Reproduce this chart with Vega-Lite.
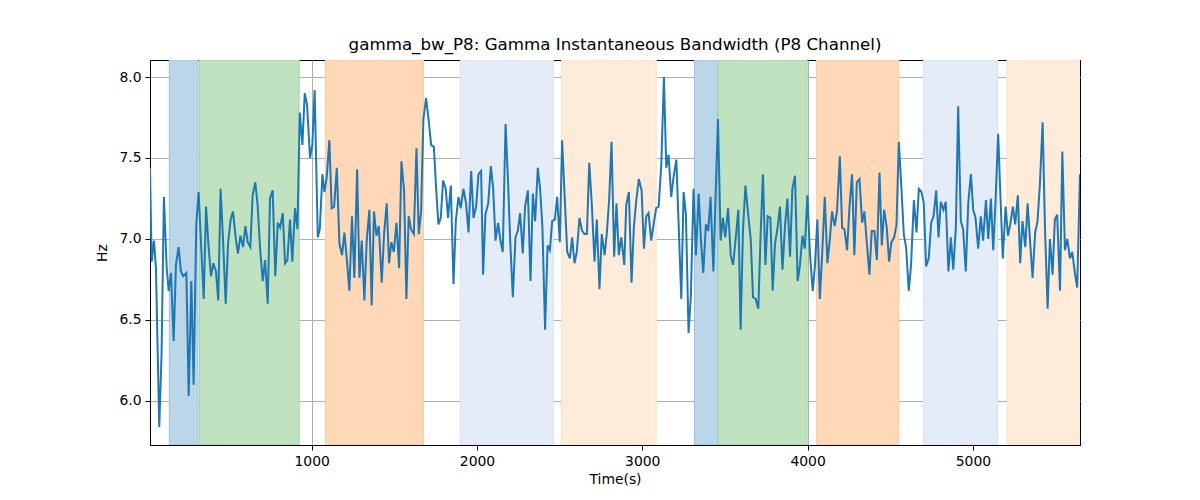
{
  "$schema": "https://vega.github.io/schema/vega-lite/v6.json",
  "autosize": "none",
  "width": 930,
  "height": 385,
  "padding": {"left": 150, "top": 60, "right": 120, "bottom": 55},
  "background": "white",
  "title": {
    "text": "gamma_bw_P8: Gamma Instantaneous Bandwidth (P8 Channel)",
    "font": "DejaVu Sans",
    "fontSize": 16.7,
    "fontWeight": "normal",
    "color": "black",
    "anchor": "middle",
    "offset": 6
  },
  "datasets": {
    "spans": [
      {"start": 139, "end": 312, "kind": "a"},
      {"start": 321, "end": 924, "kind": "b"},
      {"start": 1083, "end": 1676, "kind": "c"},
      {"start": 1900, "end": 2461, "kind": "d"},
      {"start": 2511, "end": 3084, "kind": "e"},
      {"start": 3316, "end": 3458, "kind": "a"},
      {"start": 3458, "end": 3997, "kind": "b"},
      {"start": 4055, "end": 4552, "kind": "c"},
      {"start": 4703, "end": 5149, "kind": "d"},
      {"start": 5206, "end": 5660, "kind": "e"}
    ],
    "series": [
      {"t":22,"hz":7.44},{"t":32,"hz":6.86},{"t":46,"hz":6.99},{"t":58,"hz":6.82},{"t":78,"hz":5.84},{"t":92,"hz":6.29},{"t":106,"hz":7.26},{"t":123,"hz":6.82},{"t":135,"hz":6.68},{"t":149,"hz":6.79},{"t":165,"hz":6.37},{"t":179,"hz":6.84},{"t":195,"hz":6.95},{"t":209,"hz":6.80},{"t":223,"hz":6.77},{"t":242,"hz":6.79},{"t":256,"hz":6.03},{"t":272,"hz":6.74},{"t":286,"hz":6.10},{"t":302,"hz":7.09},{"t":316,"hz":7.29},{"t":330,"hz":6.99},{"t":347,"hz":6.63},{"t":361,"hz":7.20},{"t":375,"hz":6.97},{"t":391,"hz":6.77},{"t":405,"hz":6.85},{"t":421,"hz":6.80},{"t":435,"hz":6.62},{"t":449,"hz":7.31},{"t":464,"hz":6.99},{"t":480,"hz":6.60},{"t":494,"hz":6.97},{"t":510,"hz":7.12},{"t":524,"hz":7.17},{"t":540,"hz":7.01},{"t":554,"hz":6.91},{"t":569,"hz":7.02},{"t":585,"hz":6.95},{"t":599,"hz":7.08},{"t":613,"hz":6.98},{"t":629,"hz":6.95},{"t":643,"hz":7.27},{"t":659,"hz":7.35},{"t":673,"hz":7.21},{"t":688,"hz":6.94},{"t":704,"hz":6.74},{"t":718,"hz":6.87},{"t":734,"hz":6.60},{"t":748,"hz":7.25},{"t":764,"hz":7.30},{"t":780,"hz":6.77},{"t":795,"hz":7.10},{"t":809,"hz":7.07},{"t":825,"hz":7.16},{"t":839,"hz":6.85},{"t":853,"hz":6.87},{"t":869,"hz":7.12},{"t":883,"hz":6.86},{"t":899,"hz":7.19},{"t":914,"hz":7.06},{"t":928,"hz":7.78},{"t":944,"hz":7.58},{"t":958,"hz":7.90},{"t":972,"hz":7.83},{"t":990,"hz":7.50},{"t":1004,"hz":7.58},{"t":1018,"hz":7.92},{"t":1037,"hz":7.01},{"t":1049,"hz":7.06},{"t":1065,"hz":7.40},{"t":1077,"hz":7.29},{"t":1091,"hz":7.38},{"t":1107,"hz":7.61},{"t":1121,"hz":7.19},{"t":1136,"hz":7.20},{"t":1152,"hz":7.44},{"t":1168,"hz":6.97},
      {"t":1184,"hz":6.90},{"t":1198,"hz":7.04},{"t":1214,"hz":6.86},{"t":1228,"hz":6.68},{"t":1244,"hz":7.14},{"t":1258,"hz":6.76},{"t":1275,"hz":7.43},{"t":1289,"hz":6.76},{"t":1303,"hz":6.99},{"t":1319,"hz":6.62},{"t":1333,"hz":6.99},{"t":1349,"hz":7.18},{"t":1363,"hz":6.59},{"t":1377,"hz":7.17},{"t":1392,"hz":7.02},{"t":1406,"hz":7.08},{"t":1424,"hz":6.73},{"t":1438,"hz":7.03},{"t":1454,"hz":7.22},{"t":1468,"hz":6.85},{"t":1482,"hz":6.98},{"t":1497,"hz":6.92},{"t":1513,"hz":7.10},{"t":1529,"hz":6.82},{"t":1543,"hz":7.48},{"t":1559,"hz":7.30},{"t":1573,"hz":6.63},{"t":1587,"hz":7.14},{"t":1601,"hz":7.06},{"t":1618,"hz":7.03},{"t":1634,"hz":7.56},{"t":1648,"hz":7.03},{"t":1662,"hz":7.17},{"t":1676,"hz":7.74},{"t":1692,"hz":7.87},{"t":1706,"hz":7.75},{"t":1723,"hz":7.58},{"t":1739,"hz":7.57},{"t":1753,"hz":7.31},{"t":1767,"hz":7.09},{"t":1781,"hz":7.13},{"t":1795,"hz":7.36},{"t":1811,"hz":7.31},{"t":1825,"hz":7.13},{"t":1842,"hz":7.33},{"t":1858,"hz":6.72},{"t":1872,"hz":7.11},{"t":1888,"hz":7.26},{"t":1902,"hz":7.19},{"t":1918,"hz":7.31},{"t":1934,"hz":7.22},{"t":1949,"hz":7.04},{"t":1965,"hz":7.42},{"t":1979,"hz":7.13},{"t":1995,"hz":7.20},{"t":2009,"hz":7.40},{"t":2025,"hz":7.42},{"t":2037,"hz":6.78},{"t":2051,"hz":7.15},{"t":2068,"hz":7.22},{"t":2084,"hz":7.45},{"t":2098,"hz":7.31},{"t":2112,"hz":6.99},{"t":2128,"hz":7.10},{"t":2142,"hz":6.99},{"t":2156,"hz":6.92},{"t":2173,"hz":7.71},{"t":2187,"hz":7.38},{"t":2201,"hz":6.99},{"t":2217,"hz":6.64},{"t":2233,"hz":7.01},{"t":2247,"hz":7.05},{"t":2261,"hz":7.16},
      {"t":2277,"hz":6.91},{"t":2291,"hz":7.20},{"t":2308,"hz":7.30},{"t":2324,"hz":6.74},{"t":2338,"hz":7.28},{"t":2352,"hz":7.11},{"t":2368,"hz":7.44},{"t":2382,"hz":7.31},{"t":2396,"hz":7.07},{"t":2412,"hz":6.44},{"t":2427,"hz":6.96},{"t":2441,"hz":6.93},{"t":2455,"hz":7.11},{"t":2471,"hz":7.12},{"t":2485,"hz":7.26},{"t":2501,"hz":6.98},{"t":2515,"hz":7.61},{"t":2531,"hz":7.25},{"t":2546,"hz":6.92},{"t":2562,"hz":6.88},{"t":2576,"hz":7.01},{"t":2590,"hz":6.85},{"t":2604,"hz":6.92},{"t":2620,"hz":7.13},{"t":2636,"hz":7.05},{"t":2651,"hz":7.03},{"t":2665,"hz":7.03},{"t":2679,"hz":7.47},{"t":2695,"hz":7.21},{"t":2711,"hz":6.86},{"t":2725,"hz":7.12},{"t":2741,"hz":6.69},{"t":2755,"hz":7.03},{"t":2772,"hz":6.90},{"t":2786,"hz":7.04},{"t":2800,"hz":7.25},{"t":2814,"hz":7.60},{"t":2830,"hz":6.89},{"t":2844,"hz":7.22},{"t":2858,"hz":6.90},{"t":2873,"hz":7.01},{"t":2891,"hz":6.84},{"t":2903,"hz":7.21},{"t":2919,"hz":7.29},{"t":2935,"hz":6.73},{"t":2949,"hz":7.07},{"t":2963,"hz":7.23},{"t":2979,"hz":7.37},{"t":2996,"hz":7.30},{"t":3010,"hz":6.94},{"t":3024,"hz":7.14},{"t":3038,"hz":7.16},{"t":3054,"hz":6.99},{"t":3070,"hz":7.10},{"t":3084,"hz":7.19},{"t":3099,"hz":7.20},{"t":3115,"hz":7.46},{"t":3131,"hz":8.00},{"t":3145,"hz":7.44},{"t":3159,"hz":7.52},{"t":3175,"hz":7.26},{"t":3189,"hz":7.38},{"t":3206,"hz":7.49},{"t":3220,"hz":7.09},{"t":3236,"hz":6.63},{"t":3250,"hz":7.29},{"t":3264,"hz":7.15},{"t":3280,"hz":6.42},{"t":3294,"hz":6.65},{"t":3310,"hz":7.31},{"t":3325,"hz":6.90},{"t":3341,"hz":7.28},{"t":3355,"hz":6.99},{"t":3369,"hz":6.79},{"t":3385,"hz":7.09},{"t":3399,"hz":7.05},{"t":3413,"hz":7.26},{"t":3430,"hz":6.80},{"t":3444,"hz":7.28},{"t":3458,"hz":7.74},
      {"t":3474,"hz":6.99},{"t":3488,"hz":7.13},{"t":3502,"hz":7.01},{"t":3519,"hz":7.19},{"t":3535,"hz":6.90},{"t":3549,"hz":6.84},{"t":3565,"hz":7.00},{"t":3581,"hz":7.18},{"t":3595,"hz":6.44},{"t":3609,"hz":7.05},{"t":3624,"hz":7.33},{"t":3640,"hz":7.16},{"t":3656,"hz":7.00},{"t":3670,"hz":6.64},{"t":3686,"hz":6.63},{"t":3702,"hz":6.57},{"t":3716,"hz":7.03},{"t":3730,"hz":7.40},{"t":3745,"hz":6.84},{"t":3759,"hz":7.14},{"t":3775,"hz":7.13},{"t":3789,"hz":6.68},{"t":3803,"hz":6.97},{"t":3817,"hz":7.06},{"t":3833,"hz":7.20},{"t":3848,"hz":6.81},{"t":3864,"hz":7.09},{"t":3878,"hz":7.25},{"t":3894,"hz":6.89},{"t":3908,"hz":7.31},{"t":3924,"hz":7.39},{"t":3940,"hz":6.74},{"t":3954,"hz":6.84},{"t":3969,"hz":7.02},{"t":3983,"hz":6.94},{"t":3999,"hz":7.27},{"t":4015,"hz":6.90},{"t":4031,"hz":6.68},{"t":4045,"hz":6.84},{"t":4059,"hz":7.12},{"t":4074,"hz":6.63},{"t":4088,"hz":6.90},{"t":4104,"hz":7.26},{"t":4120,"hz":6.85},{"t":4134,"hz":6.99},{"t":4148,"hz":7.17},{"t":4164,"hz":7.08},{"t":4178,"hz":7.17},{"t":4195,"hz":7.51},{"t":4209,"hz":7.07},{"t":4223,"hz":7.06},{"t":4239,"hz":6.93},{"t":4253,"hz":7.19},{"t":4269,"hz":7.40},{"t":4283,"hz":6.90},{"t":4298,"hz":7.35},{"t":4314,"hz":7.37},{"t":4330,"hz":7.10},{"t":4344,"hz":7.17},{"t":4358,"hz":6.98},{"t":4374,"hz":6.78},{"t":4388,"hz":7.05},{"t":4404,"hz":7.05},{"t":4419,"hz":6.87},{"t":4435,"hz":7.41},{"t":4449,"hz":6.96},{"t":4463,"hz":7.18},{"t":4479,"hz":7.07},{"t":4493,"hz":6.86},{"t":4507,"hz":6.98},{"t":4524,"hz":7.01},{"t":4538,"hz":7.09},{"t":4552,"hz":7.60},
      {"t":4568,"hz":7.31},{"t":4582,"hz":7.03},{"t":4596,"hz":6.95},{"t":4612,"hz":6.68},{"t":4626,"hz":6.84},{"t":4643,"hz":7.24},{"t":4659,"hz":7.04},{"t":4673,"hz":7.31},{"t":4689,"hz":7.29},{"t":4703,"hz":7.22},{"t":4717,"hz":6.83},{"t":4733,"hz":6.88},{"t":4748,"hz":7.10},{"t":4762,"hz":7.14},{"t":4778,"hz":7.30},{"t":4792,"hz":7.01},{"t":4806,"hz":7.23},{"t":4822,"hz":7.18},{"t":4836,"hz":7.23},{"t":4852,"hz":6.80},{"t":4867,"hz":7.01},{"t":4881,"hz":6.81},{"t":4897,"hz":7.07},{"t":4911,"hz":7.82},{"t":4927,"hz":7.11},{"t":4941,"hz":7.06},{"t":4957,"hz":6.80},{"t":4972,"hz":7.22},{"t":4988,"hz":7.40},{"t":5002,"hz":7.18},{"t":5016,"hz":7.13},{"t":5032,"hz":6.94},{"t":5048,"hz":7.14},{"t":5062,"hz":6.99},{"t":5079,"hz":7.24},{"t":5093,"hz":7.00},{"t":5109,"hz":7.25},{"t":5123,"hz":6.93},{"t":5137,"hz":7.23},{"t":5153,"hz":7.65},{"t":5167,"hz":7.25},{"t":5181,"hz":6.88},{"t":5198,"hz":7.20},{"t":5212,"hz":7.02},{"t":5226,"hz":7.09},{"t":5242,"hz":7.20},{"t":5256,"hz":7.09},{"t":5272,"hz":7.27},{"t":5286,"hz":6.85},{"t":5300,"hz":7.11},{"t":5317,"hz":6.95},{"t":5331,"hz":7.22},{"t":5347,"hz":6.97},{"t":5361,"hz":6.76},{"t":5377,"hz":7.04},{"t":5391,"hz":7.11},{"t":5405,"hz":7.33},{"t":5422,"hz":7.72},{"t":5436,"hz":7.07},{"t":5452,"hz":6.57},{"t":5466,"hz":7.00},{"t":5482,"hz":6.78},{"t":5496,"hz":7.12},{"t":5510,"hz":7.15},{"t":5527,"hz":6.68},{"t":5541,"hz":7.54},{"t":5557,"hz":6.93},{"t":5571,"hz":7.00},{"t":5587,"hz":6.88},{"t":5601,"hz":6.92},{"t":5617,"hz":6.79},{"t":5631,"hz":6.70},{"t":5648,"hz":7.40}
    ]
  },
  "layer": [
    {
      "data": {"name": "spans"},
      "mark": {"type": "rect", "strokeWidth": 1, "clip": true},
      "encoding": {
        "x": {"field": "start", "type": "quantitative"},
        "x2": {"field": "end"},
        "fill": {
          "field": "kind",
          "type": "nominal",
          "legend": null,
          "scale": {"domain": ["a", "b", "c", "d", "e"], "range": ["#BCD6E9", "#C0E2C0", "#FFD9B7", "#E4EDF7", "#FFEBD9"]}
        },
        "stroke": {
          "field": "kind",
          "type": "nominal",
          "legend": null,
          "scale": {"domain": ["a", "b", "c", "d", "e"], "range": ["#9CC3DF", "#9FD39F", "#FFC899", "#D3E2F0", "#FFE0C4"]}
        }
      }
    },
    {
      "data": {"name": "series"},
      "mark": {"type": "line", "color": "#1f77b4", "strokeWidth": 2, "clip": true},
      "encoding": {
        "x": {
          "field": "t",
          "type": "quantitative",
          "title": "Time(s)",
          "scale": {"domain": [22, 5648], "nice": false, "zero": false},
          "axis": {"values": [1000, 2000, 3000, 4000, 5000], "format": "d", "titlePadding": 5}
        },
        "y": {
          "field": "hz",
          "type": "quantitative",
          "title": "Hz",
          "scale": {"domain": [5.728, 8.105], "nice": false, "zero": false},
          "axis": {"values": [6.0, 6.5, 7.0, 7.5, 8.0], "format": ".1f", "titlePadding": 9}
        }
      }
    }
  ],
  "config": {
    "view": {"stroke": "black", "strokeWidth": 1},
    "axis": {
      "zindex": 1,
      "labelFont": "DejaVu Sans",
      "labelFontSize": 13.9,
      "labelColor": "black",
      "titleFont": "DejaVu Sans",
      "titleFontSize": 13.9,
      "titleFontWeight": "normal",
      "titleColor": "black",
      "domainColor": "black",
      "tickColor": "black",
      "tickSize": 5,
      "labelPadding": 4,
      "gridColor": "#b0b0b0",
      "gridWidth": 1,
      "grid": true
    }
  }
}
